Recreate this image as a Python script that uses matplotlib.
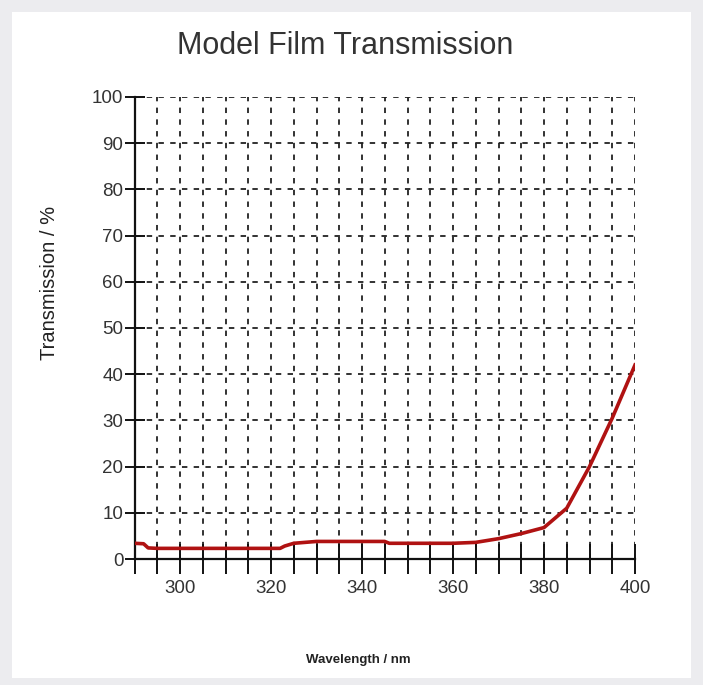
import matplotlib
matplotlib.use("Agg")
import matplotlib.pyplot as plt
from matplotlib.patches import Rectangle
from matplotlib.ticker import MultipleLocator

# transmission curve
wavelength = [290, 292, 293, 295, 322, 323, 325, 330, 345, 346, 360, 365,
              370, 375, 380, 385, 390, 395, 400]
transmission = [3.4, 3.3, 2.4, 2.3, 2.3, 2.8, 3.4, 3.8, 3.8, 3.4, 3.4, 3.6,
                4.4, 5.5, 6.8, 11.0, 20.0, 30.5, 42.0]

x_labels = [300, 320, 340, 360, 380, 400]
y_labels = [0, 10, 20, 30, 40, 50, 60, 70, 80, 90, 100]

plt.rcParams['font.family'] = ['Liberation Sans', 'DejaVu Sans']

W, H = 703, 685
fig = plt.figure(figsize=(W / 100, H / 100), dpi=100)
fig.patch.set_facecolor('#ececef')
# white panel inside the gray frame
fig.patches.append(Rectangle((12 / W, 1 - 678 / H), (691 - 12) / W, (678 - 12) / H,
                             transform=fig.transFigure, facecolor='white',
                             edgecolor='none', zorder=-5))

ax = fig.add_axes([134.5 / W, 1 - 559 / H, (635 - 134.5) / W, (559 - 97) / H])
ax.set_zorder(2)
ax.set_facecolor('white')

ax.plot(wavelength, transmission, color='#b01212', lw=2.6, zorder=3,
        solid_joinstyle='round')

ax.set_xlim(290, 400)
ax.set_ylim(0, 100)
ax.set_xticks(x_labels)
ax.xaxis.set_minor_locator(MultipleLocator(5))
ax.set_yticks(y_labels)

ax.grid(True, which='both', color='#222222', linestyle=(0, (3, 3.5)), lw=1.3)
ax.set_axisbelow(True)

for s in ['top', 'right']:
    ax.spines[s].set_visible(False)
for s in ['left', 'bottom']:
    ax.spines[s].set_linewidth(1.6)
    ax.spines[s].set_color('#111111')

ax.tick_params(axis='x', which='both', direction='inout', length=22, width=1.4,
               color='#111111', labelsize=13.5, pad=4, labelcolor='#333333')
ax.tick_params(axis='y', which='major', direction='inout', length=14, width=1.4,
               color='#111111', labelsize=13.5, pad=1, labelcolor='#333333')

fig.text(345 / W, 1 - 46 / H, 'Model Film Transmission', ha='center', va='center',
         fontsize=22, color='#333333', zorder=3)
fig.text(50 / W, 1 - 283 / H, 'Transmission / %', rotation=90, ha='center',
         va='center', fontsize=14.5, color='#222222', zorder=3)
fig.text(358 / W, 1 - 660 / H, 'Wavelength / nm', ha='center', va='center',
         fontsize=9.5, color='#222222', fontweight='bold', zorder=3)

fig.savefig('out.png', dpi=100, facecolor=fig.get_facecolor())
